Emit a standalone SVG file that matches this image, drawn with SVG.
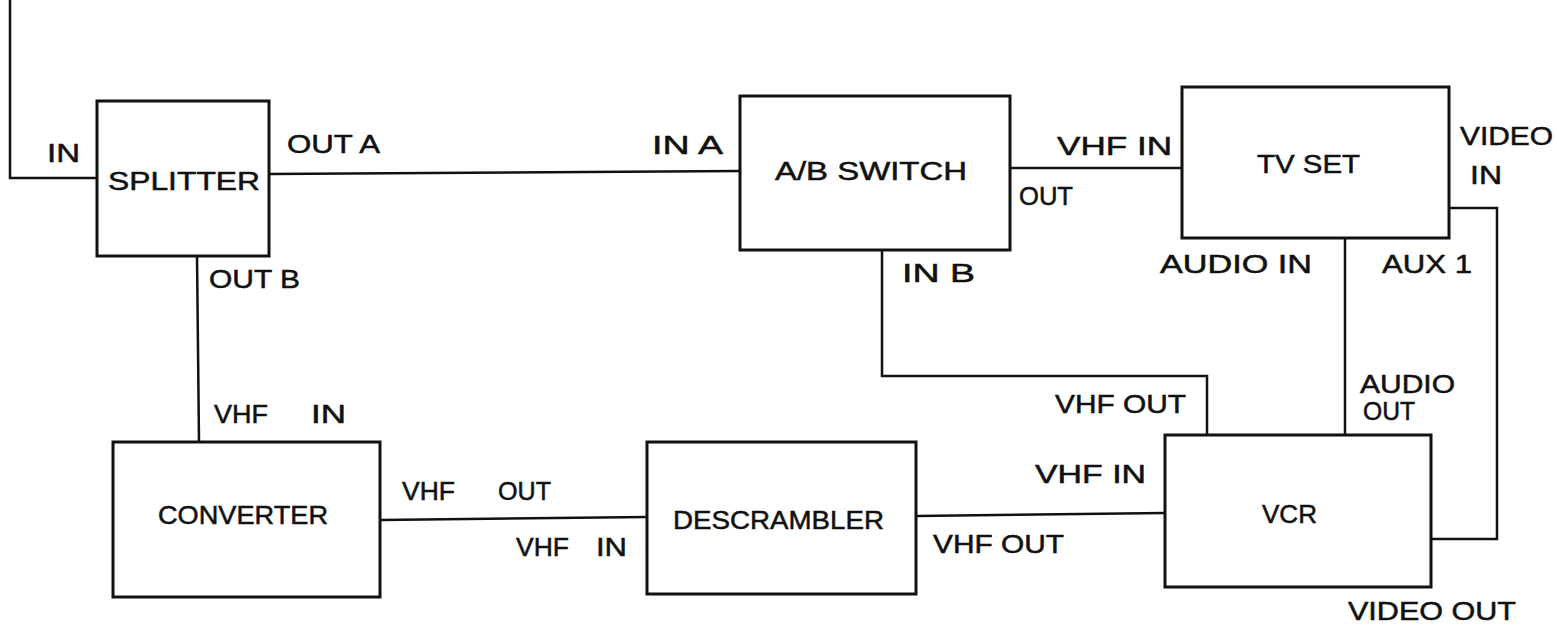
<svg xmlns="http://www.w3.org/2000/svg" width="1557" height="625" viewBox="0 0 1557 625">
<style>
.box{fill:none;stroke:#111;stroke-width:3;stroke-linejoin:miter}
.w{fill:none;stroke:#111;stroke-width:2.5;stroke-linejoin:miter}
text{font-family:"Liberation Sans",Arial,sans-serif;font-size:25px;fill:#111;stroke:#111;stroke-width:0.5}
</style>
<rect width="1557" height="625" fill="#fff"/>
<g id="connectors">
<polyline class="w" points="10,0 10,178 97,178"/>
<line class="w" x1="269" y1="174" x2="740" y2="171"/>
<line class="w" x1="197" y1="256" x2="199" y2="442"/>
<line class="w" x1="1010" y1="168" x2="1182" y2="168"/>
<polyline class="w" points="882,250 882,376 1207,376 1207,435"/>
<line class="w" x1="1345" y1="238" x2="1345" y2="435"/>
<polyline class="w" points="1449,208 1497,208 1497,539 1431,539"/>
<line class="w" x1="380" y1="520" x2="647" y2="517"/>
<line class="w" x1="916" y1="516" x2="1165" y2="513"/>
</g>
<g id="splitter">
<rect class="box" x="97" y="101" width="172" height="155"/>
<text x="108" y="190" textLength="152" lengthAdjust="spacingAndGlyphs">SPLITTER</text>
<text x="47" y="162" textLength="33" lengthAdjust="spacingAndGlyphs">IN</text>
<text x="287" y="153" textLength="93" lengthAdjust="spacingAndGlyphs">OUT A</text>
<text x="209" y="288" textLength="91" lengthAdjust="spacingAndGlyphs">OUT B</text>
</g>
<g id="ab-switch">
<rect class="box" x="740" y="96" width="270" height="154"/>
<text x="775" y="180" textLength="192" lengthAdjust="spacingAndGlyphs">A/B SWITCH</text>
<text x="652" y="154" textLength="71" lengthAdjust="spacingAndGlyphs">IN A</text>
<text x="1019" y="205" textLength="54" lengthAdjust="spacingAndGlyphs">OUT</text>
<text x="902" y="282" textLength="73" lengthAdjust="spacingAndGlyphs">IN B</text>
</g>
<g id="tv-set">
<rect class="box" x="1182" y="87" width="267" height="151"/>
<text x="1257" y="173" textLength="103" lengthAdjust="spacingAndGlyphs">TV SET</text>
<text x="1057" y="155" textLength="115" lengthAdjust="spacingAndGlyphs">VHF IN</text>
<text x="1460" y="145" textLength="93" lengthAdjust="spacingAndGlyphs">VIDEO</text>
<text x="1470" y="184" textLength="32" lengthAdjust="spacingAndGlyphs">IN</text>
<text x="1160" y="273" textLength="152" lengthAdjust="spacingAndGlyphs">AUDIO IN</text>
<text x="1382" y="273" textLength="90" lengthAdjust="spacingAndGlyphs">AUX 1</text>
</g>
<g id="converter">
<rect class="box" x="113" y="442" width="267" height="155"/>
<text x="158" y="524" textLength="170" lengthAdjust="spacingAndGlyphs">CONVERTER</text>
<text x="214" y="423" textLength="54" lengthAdjust="spacingAndGlyphs">VHF</text>
<text x="311" y="423" textLength="35" lengthAdjust="spacingAndGlyphs">IN</text>
<text x="402" y="500" textLength="53" lengthAdjust="spacingAndGlyphs">VHF</text>
<text x="498" y="500" textLength="53" lengthAdjust="spacingAndGlyphs">OUT</text>
</g>
<g id="descrambler">
<rect class="box" x="647" y="442" width="269" height="152"/>
<text x="673" y="529" textLength="211" lengthAdjust="spacingAndGlyphs">DESCRAMBLER</text>
<text x="516" y="556" textLength="53" lengthAdjust="spacingAndGlyphs">VHF</text>
<text x="596" y="556" textLength="31" lengthAdjust="spacingAndGlyphs">IN</text>
<text x="933" y="553" textLength="131" lengthAdjust="spacingAndGlyphs">VHF OUT</text>
</g>
<g id="vcr">
<rect class="box" x="1165" y="435" width="266" height="152"/>
<text x="1262" y="523" textLength="55" lengthAdjust="spacingAndGlyphs">VCR</text>
<text x="1035" y="483" textLength="111" lengthAdjust="spacingAndGlyphs">VHF IN</text>
<text x="1055" y="413" textLength="131" lengthAdjust="spacingAndGlyphs">VHF OUT</text>
<text x="1360" y="393" textLength="95" lengthAdjust="spacingAndGlyphs">AUDIO</text>
<text x="1363" y="420" textLength="52" lengthAdjust="spacingAndGlyphs">OUT</text>
<text x="1348" y="620" textLength="168" lengthAdjust="spacingAndGlyphs">VIDEO OUT</text>
</g>
</svg>
